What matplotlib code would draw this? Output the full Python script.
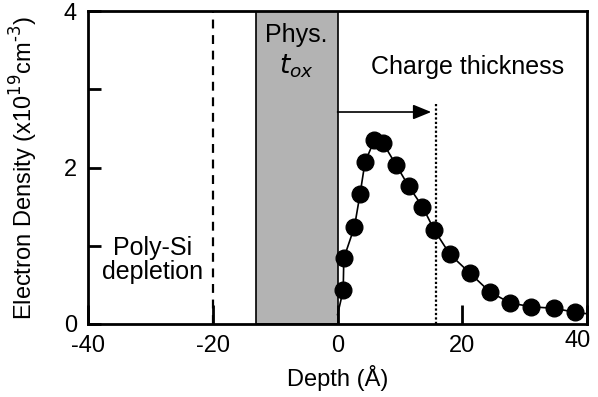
import numpy as np
import matplotlib.pyplot as plt
import matplotlib.transforms as mtransforms
from matplotlib.ticker import MultipleLocator

plt.rcParams['font.family'] = ['Liberation Sans', 'DejaVu Sans']
plt.rcParams['axes.unicode_minus'] = False

# measured electron density profile
depth = [0.9, 1.0, 2.7, 3.6, 4.4, 5.9, 7.3, 9.4, 11.4, 13.6, 15.5,
         18.0, 21.2, 24.4, 27.6, 31.0, 34.6, 38.1]
density = [0.43, 0.84, 1.24, 1.66, 2.07, 2.35, 2.31, 2.03, 1.76, 1.50, 1.20,
           0.89, 0.65, 0.41, 0.27, 0.22, 0.20, 0.15]

# fitted curve through the points
fit_depth = [0.0, 0.9, 1.0, 2.7, 3.6, 4.4, 5.9, 7.3, 9.4, 11.4, 13.6, 15.5,
             18.0, 21.2, 24.4, 27.6, 31.0, 34.6, 38.1, 40.0]
fit_density = [0.12, 0.43, 0.84, 1.24, 1.66, 2.07, 2.35, 2.31, 2.03, 1.76, 1.50,
               1.20, 0.89, 0.65, 0.41, 0.27, 0.22, 0.20, 0.15, 0.13]

tox_left, tox_right = -13, 0
poly_depletion = -20
charge_thickness = 15.8
arrow_y = 2.71

fig = plt.figure(figsize=(5.98, 3.97), dpi=100)
ax = fig.add_axes([0.147, 0.184, 0.835, 0.788])

ax.axvspan(tox_left, tox_right, facecolor='#b3b3b3', edgecolor='black', lw=1.2, zorder=1)
ax.axvline(poly_depletion, color='black', ls=(0, (4, 3)), lw=1.6, zorder=2)
ax.plot([charge_thickness, charge_thickness], [0, 2.82], color='black', ls=(0, (1, 1)), lw=1.6, zorder=2)

ax.annotate('', xy=(15.0, arrow_y), xytext=(0, arrow_y),
            arrowprops=dict(arrowstyle='-|>,head_length=1.1,head_width=0.45',
                            color='black', lw=1.2, shrinkA=0, shrinkB=0))

ax.plot(fit_depth, fit_density, color='black', lw=1.2, zorder=3)
ax.plot(depth, density, 'o', color='black', ms=12, zorder=4)

ax.text(-6.6, 3.69, 'Phys.', ha='center', va='center', fontsize=18)
ax.text(-6.6, 3.29, r'$\mathit{t}_{\mathit{ox}}$', ha='center', va='center', fontsize=19)
ax.text(20.9, 3.28, 'Charge thickness', ha='center', va='center', fontsize=18)
ax.text(-29.7, 0.82, 'Poly-Si\ndepletion', ha='center', va='center', fontsize=18,
        linespacing=1.0)

ax.set_xlim(-40, 40)
ax.set_ylim(0, 4)
ax.set_xticks([-40, -20, 0, 20, 40])
ax.set_yticks([0, 2, 4])
ax.yaxis.set_minor_locator(MultipleLocator(1))
ax.tick_params(axis='both', which='both', direction='in', labelsize=17, width=2)
ax.tick_params(axis='x', length=14, pad=8)
ax.tick_params(axis='y', which='both', length=9, pad=8)
for s in ['left', 'bottom', 'right', 'top']:
    ax.spines[s].set_linewidth(2)

# last x label sits a little left and up, inside the figure
fig.canvas.draw()
last = ax.get_xticklabels()[-1]
last.set_transform(last.get_transform() + mtransforms.ScaledTranslation(-7 / 72, 4 / 72, fig.dpi_scale_trans))

ax.set_xlabel('Depth (Å)', fontsize=17, labelpad=6)
ax.set_ylabel(r'Electron Density (x10$^{19}$cm$^{\text{-}3}$)', fontsize=17, labelpad=17)

fig.savefig('out.png', dpi=100)
